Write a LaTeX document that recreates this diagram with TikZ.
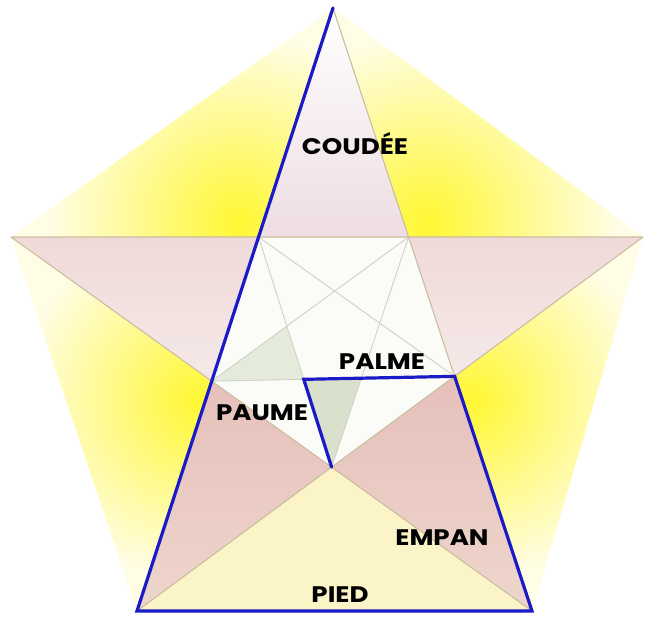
\documentclass[tikz,border=0pt]{standalone}
\usepackage{fontspec}
\newfontfamily\labfont{Poppins}[FakeStretch=1.16]
\definecolor{glow}{HTML}{FFF733}
\definecolor{pale}{HTML}{FFFDE6}
\definecolor{botyellow}{HTML}{FAF4C6}
\definecolor{pinkTop}{HTML}{EEDDE2}
\definecolor{pinkSide}{HTML}{EFDAD8}
\definecolor{pinkSideL}{HTML}{F5E9E8}
\definecolor{pinkBot}{HTML}{E6C0BB}
\definecolor{pinkBotL}{HTML}{EED6CC}
\definecolor{innerw}{HTML}{FBFBF8}
\definecolor{greenA}{HTML}{D9E0CB}
\definecolor{greenB}{HTML}{E5EBDB}
\definecolor{starline}{HTML}{CBBD9F}
\definecolor{innerline}{HTML}{CFD0C6}
\definecolor{blueline}{HTML}{1A1AC6}
\tikzset{
  starstroke/.style={draw=starline, line width=1.1pt},
  innerstroke/.style={draw=innerline, line width=0.9pt},
  bluepath/.style={draw=blueline, line width=3.2pt, line cap=round, line join=miter},
  lab/.style={font=\labfont\bfseries\fontsize{22.5}{22.5}\selectfont, inner sep=0pt, anchor=base, text=black}
}
\begin{document}
\begin{tikzpicture}[x=1pt,y=-1pt]
\useasboundingbox (0,0) rectangle (653,616);
\fill[white] (0,0) rectangle (653,616);
% outer pentagon vertices
\coordinate (T) at (333,8);
\coordinate (L) at (11,237);
\coordinate (R) at (643,237);
\coordinate (BL) at (137,611);
\coordinate (BR) at (532,611);
% inner pentagon
\coordinate (D) at (intersection of T--BL and L--R);
\coordinate (C) at (intersection of T--BR and L--R);
\coordinate (E) at (intersection of T--BL and L--BR);
\coordinate (B) at (intersection of T--BR and R--BL);
\coordinate (A) at (intersection of L--BR and R--BL);
% inner star points
\coordinate (P1) at (intersection of A--D and E--B);
\coordinate (P2) at (intersection of A--C and E--B);
\coordinate (Q) at (intersection of A--D and E--C);
% yellow regions between star points
\begin{scope}
  \clip (T)--(L)--(D)--cycle;
  \fill[pale] (0,0) rectangle (653,616);
  \shade[inner color=glow, outer color=pale] (238,222) circle (190);
\end{scope}
\begin{scope}
  \clip (T)--(R)--(C)--cycle;
  \fill[pale] (0,0) rectangle (653,616);
  \shade[inner color=glow, outer color=pale] (428,222) circle (190);
\end{scope}
\begin{scope}
  \clip (L)--(E)--(BL)--cycle;
  \fill[pale] (0,0) rectangle (653,616);
  \shade[inner color=glow, outer color=pale] (198,400) circle (180);
\end{scope}
\begin{scope}
  \clip (R)--(B)--(BR)--cycle;
  \fill[pale] (0,0) rectangle (653,616);
  \shade[inner color=glow, outer color=pale] (472,400) circle (180);
\end{scope}
\fill[botyellow] (BL)--(A)--(BR)--cycle;
% star points
\shade[top color=white, bottom color=pinkTop] (T)--(D)--(C)--cycle;
\shade[top color=pinkSide, bottom color=pinkSideL] (L)--(D)--(E)--cycle;
\shade[top color=pinkSide, bottom color=pinkSideL] (R)--(C)--(B)--cycle;
\shade[top color=pinkBot, bottom color=pinkBotL] (BL)--(E)--(A)--cycle;
\shade[top color=pinkBot, bottom color=pinkBotL] (BR)--(B)--(A)--cycle;
% inner pentagon
\fill[innerw] (D)--(C)--(B)--(A)--(E)--cycle;
\fill[greenA] (A)--(P1)--(P2)--cycle;
\fill[greenB] (E)--(P1)--(Q)--cycle;
% inner pentagram
\draw[innerstroke] (D)--(B) (C)--(E) (D)--(A) (C)--(A) (E)--(B);
% main pentagram
\draw[starstroke] (T)--(BL) (T)--(BR) (L)--(R) (L)--(BR) (R)--(BL);
% blue path
\draw[bluepath] (T)--(BL)--(BR)--(B)--(P1)--(A);
% labels
\node[lab] (coudee) at (355,154) {COUDÉE};
\node[lab] (palme) at (382,369) {PALME};
\node[lab] (paume) at (262,420) {PAUME};
\node[lab] (empan) at (442,545) {EMPAN};
\node[lab] (pied) at (340,602) {PIED};
\end{tikzpicture}
\end{document}
